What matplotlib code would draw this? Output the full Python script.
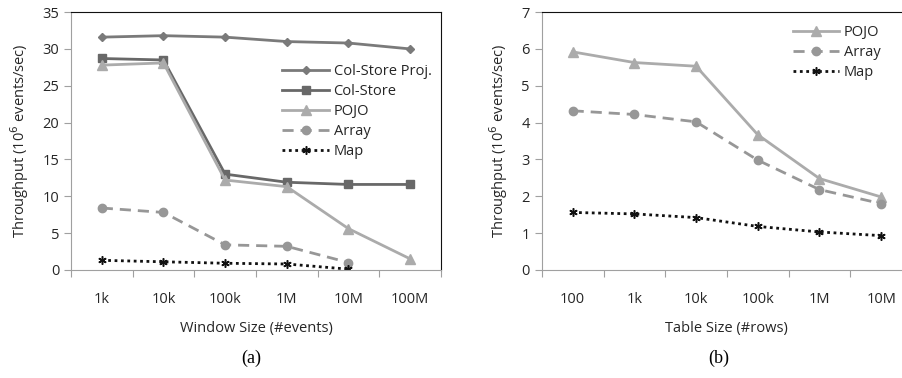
import matplotlib.pyplot as plt
import numpy as np

plt.rcParams["font.family"] = ["Open Sans", "DejaVu Sans"]

# panel (a): throughput vs window size
win_labels = ["1k", "10k", "100k", "1M", "10M", "100M"]
a_colproj = [31.6, 31.8, 31.6, 31.0, 30.8, 30.0]
a_colstore = [28.7, 28.5, 13.0, 11.9, 11.6, 11.6]
a_pojo = [27.8, 28.1, 12.2, 11.3, 5.6, 1.5]
a_array = [8.4, 7.8, 3.4, 3.2, 1.0, np.nan]
a_map = [1.3, 1.1, 0.9, 0.8, 0.1, np.nan]

# panel (b): throughput vs table size
tab_labels = ["100", "1k", "10k", "100k", "1M", "10M"]
b_pojo = [5.92, 5.63, 5.53, 3.67, 2.48, 1.98]
b_array = [4.32, 4.22, 4.02, 2.98, 2.18, 1.80]
b_map = [1.56, 1.52, 1.42, 1.18, 1.03, 0.93]

STYLES = {
    "Col-Store Proj.": dict(color="#7a7a7a", ls="-", marker="D", ms=4.5),
    "Col-Store": dict(color="#686868", ls="-", marker="s", ms=5.5),
    "POJO": dict(color="#ababab", ls="-", marker="^", ms=6.5),
    "Array": dict(color="#979797", ls=(0, (4, 2.5)), marker="o", ms=6),
    "Map": dict(color="#111111", ls=(0, (1, 1.3)), marker=(6, 2, 0), ms=6,
                mew=1.1),
}

fig = plt.figure(figsize=(9.03, 3.78), dpi=100)


def style_axes(ax, labels, ymax, ystep, xlabel):
    n = len(labels)
    ax.set_xlim(0, n)
    ax.set_ylim(0, ymax)
    ax.set_yticks(np.arange(0, ymax + 0.01, ystep))
    ax.set_xticks(np.arange(0, n + 1))
    ax.set_xticklabels([])
    ax.set_xticks(np.arange(n) + 0.5, minor=True)
    ax.set_xticklabels(labels, minor=True)
    ax.tick_params(axis="x", which="minor", length=0, pad=16, labelsize=10.5,
                   colors="#262626")
    ax.tick_params(axis="x", which="major", length=5, color="#a0a0a0",
                   direction="out")
    ax.tick_params(axis="y", length=5, color="#a0a0a0", labelsize=10.5,
                   labelcolor="#262626")
    for side in ("left", "bottom"):
        ax.spines[side].set_color("#a0a0a0")
    for side in ("top", "right"):
        ax.spines[side].set_color("#111111")
    ax.set_xlabel(xlabel, fontsize=10.5, color="#262626", labelpad=10)
    ax.set_ylabel("Throughput (10$^6$ events/sec)", fontsize=10.5,
                  color="#262626", labelpad=8)


ax1 = fig.add_axes([0.0786, 0.286, 0.4097, 0.682])
xa = np.arange(len(win_labels)) + 0.5
for name, vals in [("Col-Store Proj.", a_colproj), ("Col-Store", a_colstore),
                   ("POJO", a_pojo), ("Array", a_array), ("Map", a_map)]:
    st = STYLES[name]
    ax1.plot(xa, vals, lw=2, label=name, **st)
style_axes(ax1, win_labels, 35, 5, "Window Size (#events)")
ax1.legend(loc="upper right", bbox_to_anchor=(1.01, 0.85), frameon=False,
           fontsize=10.5, handlelength=3.2, handletextpad=0.3,
           labelspacing=0.35, labelcolor="#262626")

ax2 = fig.add_axes([0.600, 0.286, 0.410, 0.682])
xb = np.arange(len(tab_labels)) + 0.5
for name, vals in [("POJO", b_pojo), ("Array", b_array), ("Map", b_map)]:
    st = STYLES[name]
    ax2.plot(xb, vals, lw=2, label=name, **st)
style_axes(ax2, tab_labels, 7, 1, "Table Size (#rows)")
ax2.legend(loc="upper right", bbox_to_anchor=(0.95, 1.0), frameon=False,
           fontsize=10.5, handlelength=3.2, handletextpad=0.3,
           labelspacing=0.35, labelcolor="#262626")

fig.text(0.278, 0.052, "(a)", family="Liberation Serif", fontsize=13,
         ha="center", va="center")
fig.text(0.796, 0.052, "(b)", family="Liberation Serif", fontsize=13,
         ha="center", va="center")

fig.savefig("out.png", dpi=100)
